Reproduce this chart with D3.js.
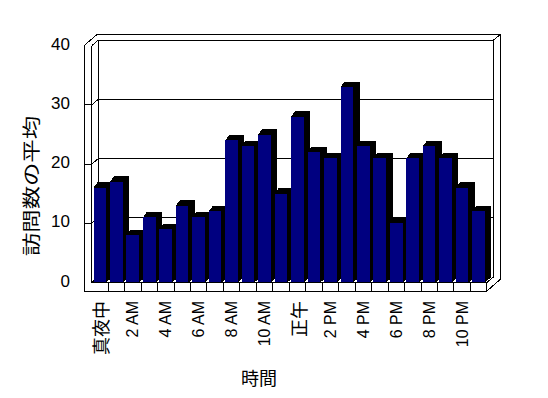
<!DOCTYPE html>
<html><head><meta charset="utf-8">
<script src="https://cdn.jsdelivr.net/npm/d3@7"></script>
<style>
body { margin: 0; background: #fff; }
svg { shape-rendering: crispEdges; }
text { font-family: 'Liberation Sans', Arial, sans-serif; fill: #000; }
.cjk { font-family: 'Noto Sans CJK JP', sans-serif; }
</style>
</head>
<body>
<svg id="chart" width="548" height="398"></svg>
<script>
// data
const hours = ["真夜中", "1 AM", "2 AM", "3 AM", "4 AM", "5 AM", "6 AM", "7 AM", "8 AM", "9 AM", "10 AM", "11 AM",
               "正午", "1 PM", "2 PM", "3 PM", "4 PM", "5 PM", "6 PM", "7 PM", "8 PM", "9 PM", "10 PM", "11 PM"];
const visits = [16, 17, 8, 11, 9, 13, 11, 12, 24, 23, 25, 15, 28, 22, 21, 33, 23, 21, 10, 21, 23, 21, 16, 12];
const yTicks = [0, 10, 20, 30, 40];
const yTitle = "訪問数の平均";
const xTitle = "時間";

const svg = d3.select("#chart");

const x = d3.scaleBand().domain(hours).range([91.7, 486.9]);
const y = d3.scaleLinear().domain([0, 40]).range([282.5, 45.7]);
const dx = 6.5, dy = -5.5;          // depth offset front -> back
const slabL = 84, slabB = 291;       // outer edges of wall / floor slabs
const backL = x.range()[0] + dx, backR = x.range()[1] + dx;
const isCjk = s => /[\u3000-\u9fff]/.test(s);

const line = (x1, y1, x2, y2) => svg.append("line")
  .attr("x1", x1).attr("y1", y1).attr("x2", x2).attr("y2", y2)
  .attr("stroke", "#000").attr("stroke-width", 1);

// outer silhouette of the walls and floor
svg.append("path")
  .attr("d", d3.line()([
    [slabL, y(40)], [backL - 1.5, y(40) + dy - 5.5], [backR + 6.7, y(40) + dy - 5.5],
    [backR + 6.7, y(0) + dy + 2.5], [x.range()[1], slabB], [slabL, slabB]
  ]) + "Z")
  .attr("fill", "#fff").attr("stroke", "#000");

// back wall face
line(backL, y(40) + dy, backR, y(40) + dy);
line(backL, y(40) + dy, backL, y(0) + dy);
line(backR, y(40) + dy, backR, y(0) + dy);
line(backR, y(40) + dy, backR + 6.7, y(40) + dy - 5.5);
// left wall front edge
line(x.range()[0], y(40), x.range()[0], y(0));
line(x.range()[0], y(40), backL, y(40) + dy);

// gridlines on back wall and left wall
yTicks.filter(v => v > 0 && v < 40).forEach(v => {
  line(backL, y(v) + dy, backR, y(v) + dy);
  line(backL, y(v) + dy, x.range()[0], y(v));
  line(x.range()[0], y(v), slabL, y(v));
});
line(backL, y(0) + dy, x.range()[0], y(0));
line(backR, y(0) + dy, x.range()[1], y(0));

// bars
const bw = x.bandwidth();
const bars = svg.append("g").selectAll("g")
  .data(hours.map((h, i) => ({ h, v: visits[i] })))
  .join("g");

bars.each(function(d) {
  const g = d3.select(this);
  const x0 = x(d.h) + bw * 0.11, w = bw * 0.765;
  const yt = y(d.v), yb = y(0);
  g.append("path")
    .attr("d", d3.line()([[x0 + w, yt], [x0 + w + dx, yt + dy], [x0 + w + dx, yb + dy], [x0 + w, yb]]) + "Z")
    .attr("fill", "#000");
  g.append("path")
    .attr("d", d3.line()([[x0, yt], [x0 + w, yt], [x0 + w + dx, yt + dy], [x0 + 4, yt + dy]]) + "Z")
    .attr("fill", "#000");
  g.append("rect")
    .attr("x", x0).attr("y", yt).attr("width", w).attr("height", yb - yt)
    .attr("fill", "#000080");
});

// floor front strip with category ticks
line(x.range()[0], y(0), x.range()[1], y(0));
line(x.range()[1], y(0), x.range()[1], slabB);
hours.slice(1).forEach(h => line(x(h), y(0), x(h), slabB));

// y tick labels
svg.append("g").selectAll("text")
  .data(yTicks)
  .join("text")
  .attr("x", 70)
  .attr("y", v => y(v) - 1.5)
  .attr("text-anchor", "end")
  .attr("dominant-baseline", "central")
  .attr("font-size", 17)
  .text(v => v);

// x tick labels, every other hour
svg.append("g").selectAll("text")
  .data(hours.filter((h, i) => i % 2 === 0))
  .join("text")
  .attr("class", h => isCjk(h) ? "cjk" : null)
  .attr("transform", h => `translate(${x(h) + bw / 2},301) rotate(-90)`)
  .attr("text-anchor", "end")
  .attr("dominant-baseline", "central")
  .attr("font-size", h => isCjk(h) ? 18 : 16)
  .text(h => h);

// axis titles
svg.append("text")
  .attr("class", "cjk")
  .attr("transform", "translate(30,186) rotate(-90)")
  .attr("text-anchor", "middle")
  .attr("dominant-baseline", "central")
  .attr("font-size", 18)
  .attr("textLength", 140)
  .attr("lengthAdjust", "spacingAndGlyphs")
  .text(yTitle);

svg.append("text")
  .attr("class", "cjk")
  .attr("x", 259).attr("y", 377)
  .attr("text-anchor", "middle")
  .attr("dominant-baseline", "central")
  .attr("font-size", 18)
  .text(xTitle);
</script>
</body>
</html>
